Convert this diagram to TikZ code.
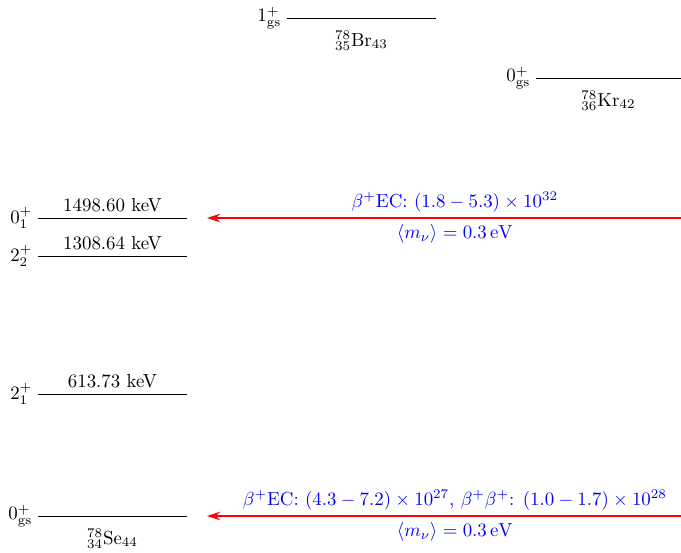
\documentclass[tikz,border=0pt]{standalone}
\usepackage{tikz}
\usetikzlibrary{arrows.meta, positioning}
\usepackage{amsmath}
\tikzset{
  lv/level/.style={line width=0.5pt, draw=black},
  lv/spin/.style={inner sep=0pt},
  lv/energy/.style={above, inner sep=3pt},
  lv/nuc/.style={below, inner sep=3pt, yshift=-3.5pt},
  lv/arr/.style={-{Stealth[length=7pt,width=4.5pt]}, line width=0.6pt,
    draw=red},
  lv/lbl/.style={text=blue, inner sep=3pt, pos=0.477}
}

\begin{document}
\begin{tikzpicture}[x=0.0186cm, y=-0.0186cm, node distance=1mm]
  \useasboundingbox (0,0) rectangle (681,552);

  % 78Br
  \coordinate (bra) at (287,18);  \coordinate (brb) at (436,18);
  \draw[lv/level] (bra) -- node[lv/nuc] (brn) {${}^{78}_{35}\mathrm{Br}_{43}$} (brb);
  \node[lv/spin, left=of bra] (brs) {$1^+_{\mathrm{gs}}$};

  % 78Kr
  \coordinate (kra) at (536,78);  \coordinate (krb) at (681,78);
  \draw[lv/level] (kra) -- node[lv/nuc] (krn) {${}^{78}_{36}\mathrm{Kr}_{42}$} (krb);
  \node[lv/spin, left=of kra] (krs) {$0^+_{\mathrm{gs}}$};

  % 78Se
  \coordinate (se0a) at (38,516); \coordinate (se0b) at (187,516);
  \coordinate (se1a) at (38,394); \coordinate (se1b) at (187,394);
  \coordinate (se2a) at (38,256); \coordinate (se2b) at (187,256);
  \coordinate (se3a) at (38,218); \coordinate (se3b) at (187,218);
  \draw[lv/level] (se0a) -- node[lv/nuc] (sen) {${}^{78}_{34}\mathrm{Se}_{44}$} (se0b);
  \draw[lv/level] (se1a) -- node[lv/energy] (e1) {613.73 keV} (se1b);
  \draw[lv/level] (se2a) -- node[lv/energy] (e2) {1308.64 keV} (se2b);
  \draw[lv/level] (se3a) -- node[lv/energy] (e3) {1498.60 keV} (se3b);
  \node[lv/spin, left=of se0a] (s0) {$0^+_{\mathrm{gs}}$};
  \node[lv/spin, left=of se1a] (s1) {$2^+_1$};
  \node[lv/spin, left=of se2a] (s2) {$2^+_2$};
  \node[lv/spin, left=of se3a] (s3) {$0^+_1$};

  % decays
  \coordinate (a1s) at (681,218); \coordinate (a1e) at (207,218);
  \coordinate (a0s) at (681,516); \coordinate (a0e) at (207,516);
  \draw[lv/arr] (a1s) --
    node[lv/lbl, above] (l1a) {$\beta^+$EC: $(1.8-5.3)\times10^{32}$}
    node[lv/lbl, below] (l1b) {$\langle m_\nu\rangle=0.3\,\mathrm{eV}$} (a1e);
  \draw[lv/arr] (a0s) --
    node[lv/lbl, above] (l0a) {$\beta^+$EC: $(4.3-7.2)\times10^{27}$, $\beta^+\beta^+$: $(1.0-1.7)\times10^{28}$}
    node[lv/lbl, below] (l0b) {$\langle m_\nu\rangle=0.3\,\mathrm{eV}$} (a0e);
\end{tikzpicture}
\end{document}
